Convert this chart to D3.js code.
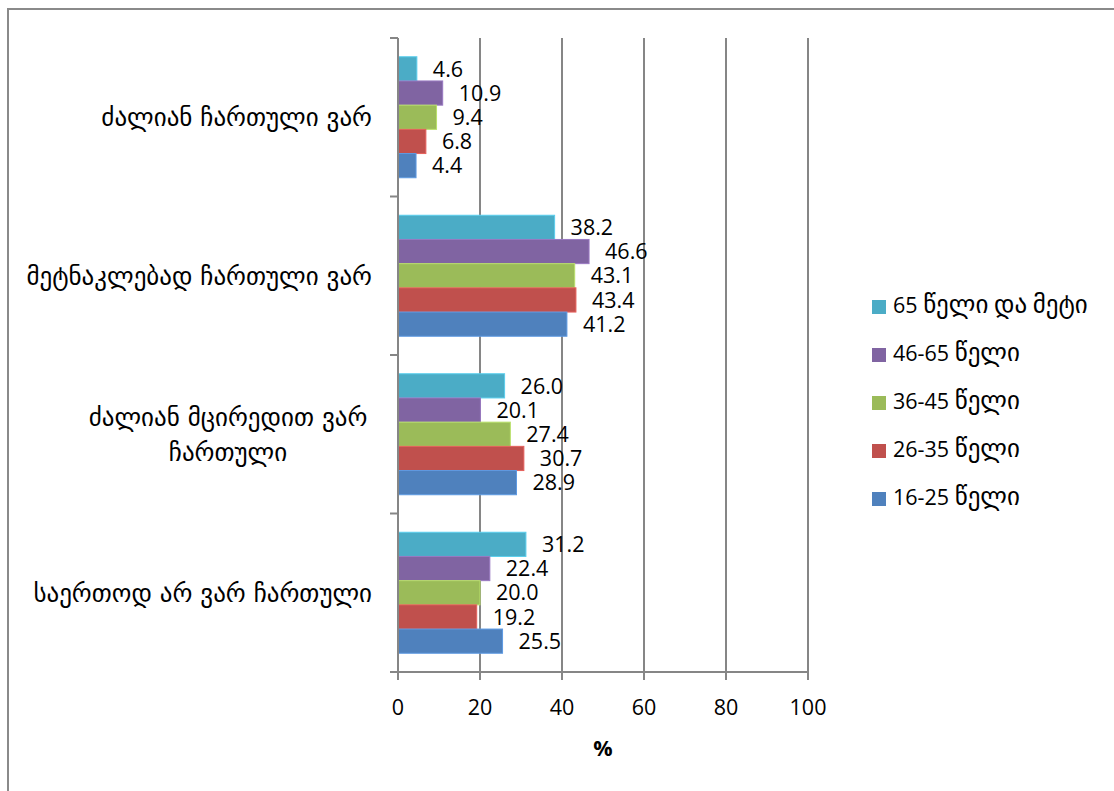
<!DOCTYPE html>
<html><head><meta charset="utf-8">
<script src="https://cdn.jsdelivr.net/npm/d3@7"></script>
<style>body{margin:0;background:#fff}svg{display:block}</style>
</head><body>
<script>
const categories = [
  ["ძალიან ჩართული ვარ"],
  ["მეტნაკლებად ჩართული ვარ"],
  ["ძალიან მცირედით ვარ", "ჩართული"],
  ["საერთოდ არ ვარ ჩართული"]
];
const seriesNames = ["65 წელი და მეტი", "46-65 წელი", "36-45 წელი", "26-35 წელი", "16-25 წელი"];
const seriesColors = ["#4BACC6", "#8064A2", "#9BBB59", "#C0504D", "#4F81BD"];
const v65plus = [4.6, 38.2, 26.0, 31.2];
const v46_65 = [10.9, 46.6, 20.1, 22.4];
const v36_45 = [9.4, 43.1, 27.4, 20.0];
const v26_35 = [6.8, 43.4, 30.7, 19.2];
const v16_25 = [4.4, 41.2, 28.9, 25.5];
const seriesValues = [v65plus, v46_65, v36_45, v26_35, v16_25];
const xTicks = [0, 20, 40, 60, 80, 100];
const xTitle = "%";

const W = 1114, H = 791;
const svg = d3.select("body").append("svg").attr("width", W).attr("height", H);
const numFont = "'Open Sans', 'DejaVu Sans', sans-serif";
const numSize = 21.5;
const geoFont = "'DejaVu Sans', sans-serif";
const geoSize = 25;

// write text with Georgian runs in a different font/size
function mixed(sel, str) {
  const runs = str.match(/[\u10A0-\u10FF]+|[^\u10A0-\u10FF]+/g) || [];
  runs.forEach(r => {
    const geo = /[\u10A0-\u10FF]/.test(r);
    sel.append("tspan")
      .attr("font-family", geo ? geoFont : numFont)
      .attr("font-size", geo ? geoSize : numSize)
      .text(r);
  });
}

// outer border
svg.append("rect").attr("x", 8).attr("y", 9).attr("width", W + 10).attr("height", H + 10)
  .attr("fill", "none").attr("stroke", "#8a8a8a").attr("stroke-width", 2);

const x = d3.scaleLinear().domain([0, 100]).range([398, 808]);
const y = d3.scaleBand().domain(d3.range(categories.length)).range([38, 672]).padding(0);
const ys = d3.scaleBand().domain(d3.range(seriesNames.length)).range([0, y.bandwidth()])
  .paddingInner(0).paddingOuter(0.775);

// gridlines
svg.append("g").selectAll("line").data(xTicks.filter(t => t > 0)).join("line")
  .attr("x1", d => x(d)).attr("x2", d => x(d)).attr("y1", 38).attr("y2", 680)
  .attr("stroke", "#868686").attr("stroke-width", 2);

// bars
const groups = svg.append("g").selectAll("g").data(categories).join("g")
  .attr("transform", (d, i) => `translate(0,${y(i)})`);
groups.each(function (c, ci) {
  const g = d3.select(this);
  seriesValues.forEach((vals, si) => {
    const c0 = d3.color(seriesColors[si]);
    g.append("rect").attr("x", x(0)).attr("y", ys(si))
      .attr("width", x(vals[ci]) - x(0)).attr("height", ys.bandwidth())
      .attr("fill", seriesColors[si])
      .attr("stroke", c0.brighter(0.5)).attr("stroke-width", 1);
    g.append("text").attr("x", x(vals[ci]) + 16).attr("y", ys(si) + ys.bandwidth() / 2)
      .attr("dy", "0.36em").attr("font-family", numFont).attr("font-size", numSize)
      .attr("fill", "#000").text(vals[ci].toFixed(1));
  });
});

// value axis
svg.append("line").attr("x1", 390).attr("x2", 808).attr("y1", 672).attr("y2", 672)
  .attr("stroke", "#868686").attr("stroke-width", 2);
svg.append("g").selectAll("line").data(xTicks).join("line")
  .attr("x1", d => x(d)).attr("x2", d => x(d)).attr("y1", 672).attr("y2", 680)
  .attr("stroke", "#868686").attr("stroke-width", 2);
svg.append("g").selectAll("text").data(xTicks).join("text")
  .attr("x", d => x(d)).attr("y", 707).attr("dy", "0.36em").attr("text-anchor", "middle")
  .attr("font-family", numFont).attr("font-size", numSize).text(d => d);
svg.append("text").attr("x", 603).attr("y", 748).attr("dy", "0.36em").attr("text-anchor", "middle")
  .attr("font-family", numFont).attr("font-size", numSize).attr("font-weight", "bold").text(xTitle);

// category axis
svg.append("line").attr("x1", 398).attr("x2", 398).attr("y1", 38).attr("y2", 680)
  .attr("stroke", "#868686").attr("stroke-width", 2);
svg.append("g").selectAll("line").data(d3.range(categories.length + 1)).join("line")
  .attr("x1", 390).attr("x2", 398)
  .attr("y1", i => 38 + i * y.step()).attr("y2", i => 38 + i * y.step())
  .attr("stroke", "#868686").attr("stroke-width", 2);

categories.forEach((lines, ci) => {
  const cy = y(ci) + y.bandwidth() / 2;
  const lh = 35;
  if (lines.length === 1) {
    svg.append("text").attr("x", 372).attr("y", cy).attr("dy", "0.36em")
      .attr("text-anchor", "end").attr("font-family", geoFont).attr("font-size", geoSize)
      .text(lines[0]);
  } else {
    const t = svg.append("text").attr("font-family", geoFont).attr("font-size", geoSize)
      .attr("text-anchor", "middle");
    lines.forEach((ln, li) => {
      t.append("tspan").attr("x", 228).attr("y", cy + (li - (lines.length - 1) / 2) * lh)
        .attr("dy", "0.36em").text(ln);
    });
  }
});

// legend
const lg = svg.append("g");
seriesNames.forEach((n, i) => {
  const ly = 307 + i * 48;
  lg.append("rect").attr("x", 872).attr("y", ly - 7).attr("width", 14).attr("height", 14)
    .attr("fill", seriesColors[i]);
  const t = lg.append("text").attr("x", 893).attr("y", ly).attr("dy", "0.36em");
  mixed(t, n);
});
</script>
</body></html>
